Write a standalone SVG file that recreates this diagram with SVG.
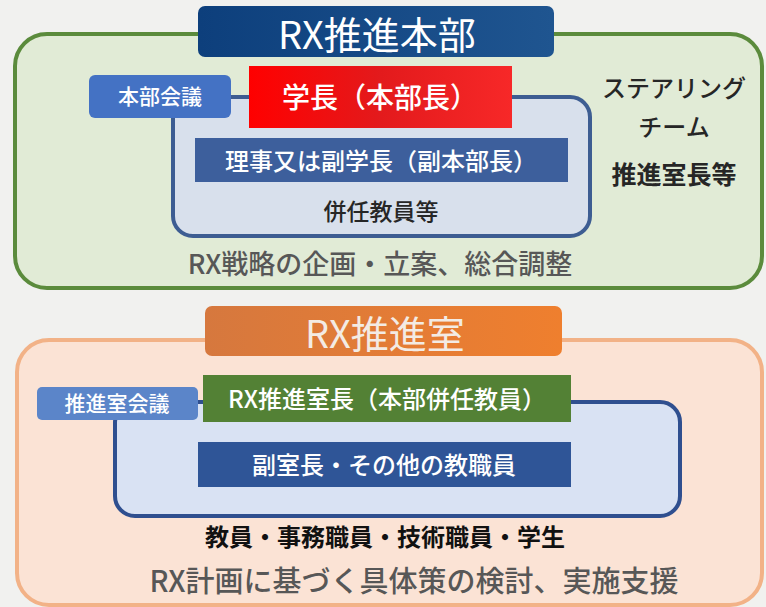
<svg xmlns="http://www.w3.org/2000/svg" width="766" height="607" viewBox="0 0 766 607">
<style>
text{font-family:"Noto Sans CJK JP","Noto Sans",sans-serif;text-anchor:middle;font-weight:500}
.w{fill:#ffffff}
.title{font-weight:400}
.b{font-weight:700}
.dark{fill:#262626}
</style>
<defs>
<linearGradient id="gBlue" x1="0" y1="0" x2="1" y2="0"><stop offset="0" stop-color="#0d3f7c"/><stop offset="1" stop-color="#1f5590"/></linearGradient>
<linearGradient id="gRed" x1="0" y1="0" x2="1" y2="0"><stop offset="0" stop-color="#ff0000"/><stop offset="0.5" stop-color="#e31a1c"/><stop offset="1" stop-color="#f72828"/></linearGradient>
<linearGradient id="gOr" x1="0" y1="0" x2="1" y2="0"><stop offset="0" stop-color="#d6783e"/><stop offset="1" stop-color="#ef7f2e"/></linearGradient>
</defs>
<rect width="766" height="607" fill="#f1f1ef"/>

<g id="honbu">
<rect x="15" y="34" width="747" height="254" rx="32" fill="#e1ebd6" stroke="#5b8b3c" stroke-width="4"/>
<rect x="198" y="6" width="356" height="51" rx="7" fill="url(#gBlue)"/>
<text x="377" y="49" class="title w" font-size="38">RX推進本部</text>
</g>

<g id="honbu-inner">
<rect x="173" y="97" width="417" height="139" rx="20" fill="#d8e0ec" stroke="#3d5d92" stroke-width="4"/>
</g>

<g id="honbu-kaigi">
<rect x="89" y="75" width="142" height="43" rx="6" fill="#4472c4"/>
<text x="160" y="104" class="w" font-size="21">本部会議</text>
</g>

<g id="gakucho">
<rect x="249" y="66" width="263" height="62" fill="url(#gRed)"/>
<text x="380" y="108" class="w" font-size="28">学長（本部長）</text>
</g>

<g id="riji">
<rect x="195" y="138" width="373" height="44" fill="#3d5f9c"/>
<text x="381" y="170" class="w" font-size="24">理事又は副学長（副本部長）</text>
</g>

<text x="381" y="220" class="dark" font-size="23">併任教員等</text>
<text x="380" y="274" fill="#575757" font-size="27">RX戦略の企画・立案、総合調整</text>

<g id="steering">
<text x="674" y="97" class="dark" font-size="24">ステアリング</text>
<text x="674" y="136" class="dark" font-size="24">チーム</text>
<text x="674" y="184" class="dark b" font-size="25">推進室長等</text>
</g>

<g id="suishinshitsu">
<rect x="17" y="340" width="745" height="265" rx="32" fill="#fbe3d5" stroke="#f2b287" stroke-width="4"/>
<rect x="205" y="306" width="357" height="50" rx="7" fill="url(#gOr)"/>
<text x="385" y="348" class="title" fill="#f3ebe4" font-size="38">RX推進室</text>
</g>

<g id="shitsu-inner">
<rect x="115" y="402" width="565" height="114" rx="20" fill="#d9e2f3" stroke="#2f4f8f" stroke-width="4"/>
</g>

<g id="shitsu-kaigi">
<rect x="37" y="387" width="161" height="33" rx="5" fill="#5b85c9"/>
<text x="117" y="411" class="w" font-size="21">推進室会議</text>
</g>

<g id="shitsucho">
<rect x="203" y="375" width="368" height="47" fill="#538135"/>
<text x="387" y="408" class="w" font-size="24">RX推進室長（本部併任教員）</text>
</g>

<g id="fukushitsucho">
<rect x="198" y="442" width="373" height="45" fill="#2f5597"/>
<text x="384" y="474" class="w" font-size="24">副室長・その他の教職員</text>
</g>

<text x="385" y="546" class="b" fill="#111111" font-size="24">教員・事務職員・技術職員・学生</text>
<text x="414" y="592" fill="#575757" font-size="29">RX計画に基づく具体策の検討、実施支援</text>
</svg>
